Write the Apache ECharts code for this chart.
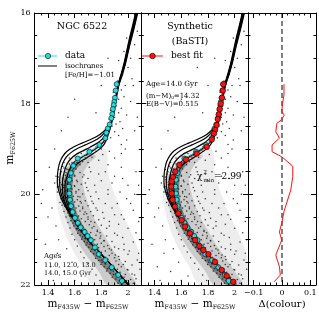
<!DOCTYPE html>
<html><head><meta charset="utf-8">
<script src="https://cdn.jsdelivr.net/npm/echarts@6/dist/echarts.min.js"></script>
<style>html,body{margin:0;padding:0;background:#fff}#c{width:319px;height:319px}</style>
</head><body><div id="c"></div>
<script>
// ---------- tick values ----------
const magMajorTicks = [16, 18, 20, 22];
const colMajorTicks = [1.4, 1.6, 1.8, 2.0];
const colMinorTicks = [1.35,1.4,1.45,1.5,1.55,1.6,1.65,1.7,1.75,1.8,1.85,1.9,1.95,2.0,2.05];
const dMajorTicks = [-0.1, 0, 0.1];
const dMinorTicks = [-0.12,-0.1,-0.08,-0.06,-0.04,-0.02,0,0.02,0.04,0.06,0.08,0.1,0.12];

// ---------- observed fiducial (cyan) ----------
const dataFid = [
[1.915,17.57],[1.908,17.71],[1.902,17.87],[1.897,17.96],[1.893,18.03],[1.887,18.12],[1.882,18.23],[1.875,18.32],
[1.862,18.46],[1.848,18.55],[1.838,18.64],[1.83,18.76],[1.785,18.91],[1.71,19.06],[1.623,19.21],[1.59,19.37],
[1.572,19.53],[1.56,19.68],[1.557,19.83],[1.56,19.98],[1.565,20.12],[1.573,20.26],[1.585,20.39],[1.602,20.52],
[1.624,20.63],[1.645,20.73],[1.675,20.83],[1.697,20.92],[1.722,21.01],[1.752,21.17],[1.78,21.32],[1.83,21.45],
[1.878,21.61],[1.927,21.78],[1.955,21.91]];

// ---------- best fit (red) ----------
const bestFit = [
[1.915,17.57],[1.911,17.71],[1.905,17.87],[1.895,18.0],[1.888,18.12],[1.88,18.24],[1.873,18.34],[1.865,18.47],
[1.853,18.58],[1.845,18.66],[1.828,18.79],[1.791,18.95],[1.715,19.1],[1.635,19.23],[1.585,19.35],[1.555,19.5],
[1.537,19.62],[1.528,19.72],[1.524,19.83],[1.528,19.98],[1.535,20.12],[1.553,20.27],[1.578,20.42],[1.603,20.57],
[1.628,20.71],[1.665,20.86],[1.703,21.01],[1.735,21.14],[1.765,21.23],[1.803,21.32],[1.853,21.49],[1.903,21.67],
[1.941,21.8],[1.99,21.93]];

// ---------- isochrones 11..15 Gyr ----------
const iso11 = [[2.057,16],[2.037,16.25],[2.016,16.5],[1.993,16.8],[1.971,17.1],[1.948,17.35],[1.923,17.6],[1.906,17.85],[1.893,18.1],[1.879,18.3],
[1.86,18.45],[1.84,18.54],[1.815,18.62],[1.775,18.71],[1.72,18.79],[1.655,18.87],[1.595,18.95],[1.547,19.04],[1.513,19.15],[1.49,19.28],
[1.477,19.43],[1.471,19.58],[1.47,19.73],[1.477,19.88],[1.492,20.03],[1.513,20.18],[1.54,20.32],[1.57,20.46],[1.6,20.59],[1.627,20.72],
[1.663,20.86],[1.701,21.01],[1.743,21.15],[1.788,21.3],[1.843,21.47],[1.898,21.65],[1.943,21.8],[1.988,21.95],[2.0,22.0]];
const iso12 = [[2.061,16],[2.041,16.25],[2.02,16.5],[1.997,16.8],[1.974,17.1],[1.951,17.35],[1.925,17.6],[1.908,17.85],[1.895,18.1],[1.881,18.3],
[1.864,18.45],[1.846,18.55],[1.825,18.64],[1.79,18.74],[1.74,18.83],[1.68,18.91],[1.62,18.99],[1.572,19.08],[1.537,19.18],[1.513,19.3],
[1.497,19.45],[1.49,19.6],[1.487,19.75],[1.492,19.9],[1.505,20.05],[1.524,20.19],[1.548,20.33],[1.575,20.46],[1.602,20.59],[1.628,20.72],
[1.664,20.86],[1.702,21.01],[1.744,21.15],[1.789,21.3],[1.844,21.47],[1.899,21.65],[1.944,21.8],[1.989,21.95],[2.0,22.0]];
const iso13 = [[2.065,16],[2.045,16.25],[2.024,16.5],[2.0,16.8],[1.977,17.1],[1.953,17.35],[1.927,17.6],[1.91,17.85],[1.896,18.1],[1.883,18.3],
[1.868,18.45],[1.852,18.56],[1.835,18.66],[1.81,18.77],[1.77,18.87],[1.715,18.96],[1.655,19.05],[1.605,19.13],[1.57,19.22],[1.545,19.32],
[1.527,19.45],[1.515,19.6],[1.508,19.75],[1.508,19.9],[1.515,20.05],[1.53,20.2],[1.552,20.33],[1.578,20.46],[1.603,20.59],[1.628,20.72],
[1.665,20.86],[1.703,21.01],[1.745,21.15],[1.79,21.3],[1.845,21.47],[1.9,21.65],[1.945,21.8],[1.99,21.95],[2.0,22.0]];
const iso14 = [[2.069,16],[2.049,16.25],[2.028,16.5],[2.003,16.8],[1.98,17.1],[1.956,17.35],[1.929,17.6],[1.912,17.85],[1.898,18.1],[1.885,18.3],
[1.872,18.45],[1.858,18.57],[1.845,18.66],[1.828,18.79],[1.8,18.9],[1.76,18.99],[1.71,19.09],[1.66,19.17],[1.625,19.23],[1.597,19.29],
[1.58,19.35],[1.555,19.5],[1.537,19.66],[1.527,19.82],[1.527,19.98],[1.535,20.12],[1.553,20.27],[1.578,20.42],[1.603,20.57],[1.628,20.71],
[1.665,20.86],[1.703,21.01],[1.745,21.15],[1.79,21.3],[1.845,21.47],[1.9,21.65],[1.945,21.8],[1.99,21.95],[2.0,22.0]];
const iso15 = [[2.073,16],[2.053,16.25],[2.032,16.5],[2.006,16.8],[1.983,17.1],[1.959,17.35],[1.931,17.6],[1.914,17.85],[1.9,18.1],[1.887,18.3],
[1.876,18.45],[1.863,18.58],[1.852,18.68],[1.838,18.8],[1.815,18.92],[1.775,19.03],[1.72,19.14],[1.67,19.23],[1.632,19.3],[1.605,19.37],
[1.585,19.45],[1.563,19.6],[1.55,19.75],[1.545,19.9],[1.547,20.05],[1.557,20.2],[1.573,20.33],[1.59,20.47],[1.608,20.6],[1.632,20.73],
[1.667,20.86],[1.705,21.01],[1.747,21.15],[1.792,21.3],[1.847,21.47],[1.902,21.65],[1.947,21.8],[1.992,21.95],[2.002,22.0]];
const isochrones = [iso11, iso12, iso13, iso14, iso15];

// ---------- Delta(colour) ----------
const deltaCol = [
[0.007,17.57],[0.007,17.81],[0.002,17.99],[-0.001,18.18],[0.008,18.25],[-0.002,18.36],[-0.018,18.43],[-0.022,18.62],
[-0.009,18.76],[-0.035,18.91],[-0.035,19.06],[-0.001,19.17],[0.038,19.38],[0.038,19.61],[0.031,19.9],[0.007,20.38],
[-0.001,20.64],[-0.009,20.83],[-0.001,21.01],[-0.022,21.34],[-0.009,21.6],[-0.006,21.78],[-0.028,21.93]];
const zeroLine = [[0,16],[0,22]];

// ---------- density envelopes of the stellar cloud (outline) ----------
const cloudCore = [[1.60,19.3],[1.545,19.5],[1.515,19.75],[1.515,20.0],[1.53,20.25],[1.56,20.5],[1.6,20.75],[1.655,21.0],
[1.715,21.25],[1.785,21.5],[1.86,21.75],[1.94,22.0],[2.0,22.0],[1.93,21.75],[1.855,21.5],[1.79,21.25],[1.73,21.0],
[1.675,20.75],[1.63,20.5],[1.6,20.25],[1.585,20.0],[1.585,19.75],[1.6,19.5],[1.65,19.3]];
const cloudMid = [[1.66,19.15],[1.56,19.35],[1.5,19.6],[1.49,19.9],[1.5,20.2],[1.53,20.5],[1.57,20.8],[1.63,21.1],
[1.7,21.4],[1.78,21.7],[1.85,22.0],[2.06,22.0],[2.0,21.7],[1.93,21.4],[1.86,21.1],[1.8,20.8],[1.74,20.5],[1.7,20.2],
[1.67,19.9],[1.66,19.6],[1.7,19.35],[1.76,19.15]];
const cloudHalo = [[1.7,19.0],[1.55,19.25],[1.47,19.6],[1.46,20.0],[1.48,20.4],[1.52,20.8],[1.58,21.2],[1.66,21.6],
[1.74,22.0],[2.1,22.0],[2.1,21.5],[2.05,21.0],[1.97,20.5],[1.9,20.0],[1.85,19.5],[1.83,19.0]];

// ---------- individual stars ----------
const stars = [
[2.07,16.4],[1.99,16.55],[2.05,16.7],[1.97,16.85],[2.02,17.0],[1.93,17.05],[2.0,17.2],[1.96,17.35],[2.03,17.45],[1.92,17.5],
[1.98,17.6],[1.95,17.7],[1.89,17.75],[1.97,17.85],[1.93,17.9],[2.02,17.95],[1.91,18.05],[1.95,18.1],[1.87,18.15],[1.93,18.2],
[1.99,18.25],[1.9,18.3],[1.86,18.35],[1.94,18.4],[1.91,18.45],[1.88,18.5],[1.96,18.55],[1.84,18.58],[1.9,18.62],[1.93,18.7],
[1.87,18.75],[1.99,18.8],[1.95,18.9],[2.05,18.6],[1.8,17.6],[1.76,18.2],[1.72,17.2],[1.85,17.0],
[1.82,18.85],[1.76,18.95],[1.7,19.05],[1.65,19.1],[1.6,19.15],[1.8,19.0],[1.74,19.1],[1.68,19.2],[1.62,19.25],[1.86,19.05],
[1.9,19.2],[1.58,19.3],[1.56,19.2],[1.52,19.3],[1.64,19.35],[1.7,19.3],[1.78,19.25],[1.85,19.35],[1.95,19.1],
[1.52,19.42],[1.55,19.45],[1.58,19.48],[1.61,19.44],[1.5,19.5],[1.64,19.52],[1.56,19.55],[1.53,19.58],[1.6,19.6],[1.67,19.57],
[1.48,19.62],[1.57,19.63],[1.72,19.5],[1.7,19.65],
[1.51,19.66],[1.54,19.68],[1.58,19.7],[1.62,19.72],[1.49,19.74],[1.56,19.76],[1.65,19.78],[1.52,19.8],[1.6,19.82],[1.47,19.84],
[1.55,19.86],[1.69,19.85],[1.58,19.88],[1.63,19.9],[1.75,19.8],[1.8,19.7],[1.5,19.9],
[1.53,19.93],[1.57,19.95],[1.61,19.97],[1.66,19.99],[1.5,20.0],[1.55,20.02],[1.59,20.04],[1.64,20.06],[1.72,20.05],[1.52,20.08],
[1.57,20.1],[1.62,20.12],[1.68,20.14],[1.78,20.1],[1.55,20.15],[1.6,20.17],[1.85,20.0],[1.49,20.18],[1.65,20.19],
[1.56,20.22],[1.59,20.24],[1.63,20.26],[1.7,20.25],[1.54,20.28],[1.61,20.3],[1.66,20.32],[1.76,20.3],[1.58,20.35],[1.64,20.37],
[1.72,20.38],[1.88,20.3],[1.6,20.42],[1.67,20.44],[1.81,20.4],[1.56,20.46],[1.63,20.48],[1.74,20.47],[1.95,20.45],[2.02,20.2],
[1.6,20.52],[1.65,20.54],[1.7,20.55],[1.78,20.56],[1.62,20.58],[1.68,20.6],[1.75,20.62],[1.86,20.6],[1.64,20.65],[1.71,20.67],
[1.8,20.68],[1.93,20.66],[1.66,20.72],[1.73,20.74],[1.84,20.75],[1.68,20.78],[1.77,20.79],[2.0,20.75],[1.62,20.76],
[1.67,20.82],[1.72,20.84],[1.79,20.85],[1.9,20.86],[1.7,20.88],[1.76,20.9],[1.84,20.92],[1.72,20.95],[1.79,20.97],[1.96,20.95],
[1.68,20.98],[1.75,21.0],[1.82,21.02],[1.88,21.04],[1.73,21.06],[1.8,21.08],[2.04,21.05],[1.77,21.1],
[1.75,21.13],[1.82,21.15],[1.9,21.16],[1.78,21.18],[1.86,21.2],[1.97,21.22],[1.76,21.23],[1.83,21.25],[1.8,21.28],[1.88,21.3],
[2.0,21.32],[1.79,21.33],[1.86,21.35],[1.93,21.37],[1.83,21.39],[1.9,21.4],
[1.85,21.43],[1.8,21.45],[1.91,21.47],[1.98,21.48],[1.86,21.5],[1.83,21.53],[1.93,21.55],[2.03,21.56],[1.88,21.58],[1.95,21.6],
[1.86,21.62],[1.92,21.65],[2.0,21.67],[1.89,21.69],
[1.94,21.72],[1.91,21.75],[1.98,21.77],[2.05,21.78],[1.93,21.8],[1.97,21.83],[1.95,21.86],[2.02,21.88],[1.99,21.9],[1.97,21.94],
[2.04,21.96],[2.01,21.98],
[1.36,19.9],[1.4,20.5],[1.38,21.1],[1.42,21.6],[1.35,20.2],[1.45,19.0],[1.41,19.4],[1.47,21.3],[1.44,21.9],[1.5,18.6],
[1.55,18.3],[1.6,17.9],[1.46,20.7],[1.43,20.3],[1.48,21.0],[1.52,21.7],[1.6,21.9],[1.65,21.8],[1.58,21.5],[1.54,21.2],
[2.06,19.5],[2.0,19.8],[1.95,19.4],[2.08,20.6],[1.92,20.2],[2.05,20.0],[1.9,19.6],[1.85,19.9],[2.08,21.3],[2.07,18.3],
[2.04,17.6],[1.98,19.0],
[1.535,19.52],[1.548,19.61],[1.512,19.64],[1.527,19.71],[1.541,19.77],[1.503,19.79],[1.518,19.85],[1.533,19.91],[1.546,19.95],[1.509,19.97],
[1.524,20.03],[1.538,20.07],[1.553,20.11],[1.517,20.13],[1.531,20.19],[1.546,20.22],[1.562,20.26],[1.528,20.27],[1.541,20.33],[1.557,20.36],
[1.573,20.4],[1.549,20.41],[1.566,20.49],[1.583,20.52],[1.598,20.55],[1.571,20.58],[1.588,20.63],[1.607,20.66],[1.621,20.69],[1.594,20.7],
[1.613,20.76],[1.632,20.8],[1.648,20.83],[1.622,20.86],[1.641,20.9],[1.66,20.94],[1.679,20.97],[1.652,20.99],[1.672,21.04],[1.694,21.07],
[1.713,21.1],[1.686,21.12],[1.707,21.17],[1.729,21.21],[1.75,21.24],[1.72,21.26],[1.742,21.31],[1.768,21.35],[1.79,21.38],[1.757,21.41],
[1.781,21.46],[1.806,21.5],[1.829,21.53],[1.797,21.55],[1.821,21.6],[1.848,21.64],[1.872,21.67],[1.84,21.69],[1.866,21.74],[1.892,21.77],
[1.918,21.81],[1.882,21.83],[1.909,21.87],[1.936,21.9],[1.962,21.94],[1.925,21.96],[1.955,21.99],
[1.492,19.55],[1.485,19.68],[1.478,19.83],[1.488,19.96],[1.497,20.1],[1.505,20.24],[1.52,20.38],[1.535,20.5],[1.55,20.62],[1.565,20.74],
[1.58,20.88],[1.6,21.0],[1.62,21.14],[1.645,21.27],[1.67,21.4],[1.7,21.52],[1.73,21.65],[1.76,21.78],[1.79,21.9],
[1.6,19.58],[1.615,19.69],[1.598,19.81],[1.61,19.94],[1.625,20.05],[1.642,20.16],[1.66,20.28],[1.678,20.39],[1.7,20.5],[1.722,20.6],
[1.745,20.71],[1.77,20.82],[1.795,20.92],[1.82,21.03],[1.848,21.13],[1.875,21.23],[1.905,21.34],[1.935,21.44],[1.965,21.55],[1.995,21.66],
[2.03,21.76],[2.06,21.86],
[1.66,19.62],[1.68,19.75],[1.7,19.92],[1.73,20.15],[1.77,20.35],[1.82,20.53],[1.86,20.7],[1.92,20.9],[1.97,21.1],[2.01,21.25],
[2.07,21.45],[2.09,21.65],
[1.83,19.5],[1.88,19.75],[1.94,19.95],[1.99,20.1],[2.04,20.35],[1.97,20.55],[2.06,20.85],[1.93,21.2],[2.09,21.0],[1.76,19.95],
[1.83,20.2],[1.9,20.45],[1.71,19.4],[1.78,19.55],[1.96,19.65],[2.08,19.8],[1.74,20.2],[1.69,20.43],
[1.62,19.3],[1.57,19.38],[1.54,19.44],[1.66,19.28],[1.73,19.18],[1.81,19.12],[1.76,19.05],[1.69,19.13],[1.56,19.33],[1.51,19.38],
[1.48,19.45],[1.46,19.6],[1.45,19.75],[1.47,19.95]];

// ---------- layout ----------
const SERIF = '"DejaVu Serif","Liberation Serif",serif';
const grids = [
  {left: 34.7, top: 13, width: 106.6, height: 272},
  {left: 141.3, top: 13, width: 106.7, height: 272},
  {left: 248, top: 13, width: 68, height: 272}
];
const CYAN = '#22dede', RED = '#ff1010';

function xAxesFor(g, min, max, major, minor, fmt) {
  const base = {gridIndex: g, type: 'value', min, max, splitLine: {show: false}};
  return [
    Object.assign({}, base, {position: 'bottom',
      axisLine: {show: true, onZero: false, lineStyle: {color: '#000', width: 1}},
      axisTick: {show: true, inside: true, length: 5, customValues: major, lineStyle: {color: '#000'}},
      axisLabel: {show: true, customValues: major, formatter: fmt, color: '#000', fontFamily: SERIF, fontSize: 8, margin: 4}}),
    Object.assign({}, base, {position: 'bottom', axisLine: {show: false},
      axisTick: {show: true, inside: true, length: 2.5, customValues: minor, lineStyle: {color: '#000'}},
      axisLabel: {show: false}}),
    Object.assign({}, base, {position: 'top',
      axisLine: {show: true, onZero: false, lineStyle: {color: '#000', width: 1}},
      axisTick: {show: true, inside: true, length: 5, customValues: major, lineStyle: {color: '#000'}},
      axisLabel: {show: false}}),
    Object.assign({}, base, {position: 'top', axisLine: {show: false},
      axisTick: {show: true, inside: true, length: 2.5, customValues: minor, lineStyle: {color: '#000'}},
      axisLabel: {show: false}})
  ];
}
function yAxesFor(g, showLabel) {
  const base = {gridIndex: g, type: 'value', inverse: true, min: 16, max: 22, interval: 2, splitLine: {show: false},
    axisLine: {show: true, onZero: false, lineStyle: {color: '#000', width: 1}},
    axisTick: {show: true, inside: true, length: 5, lineStyle: {color: '#000'}},
    minorTick: {show: true, splitNumber: 4, length: 2.5, lineStyle: {color: '#000'}}};
  return [
    Object.assign({}, base, {position: 'left',
      axisLabel: {show: showLabel, color: '#000', fontFamily: SERIF, fontSize: 8, margin: 4,
        customValues: magMajorTicks}}),
    Object.assign({}, base, {position: 'right', axisLabel: {show: false}})
  ];
}
const colFmt = v => (Math.abs(v - 2) < 1e-6 ? '2' : v.toFixed(1));
const dFmt = v => (Math.abs(v) < 1e-6 ? '0' : v.toFixed(1).replace('-', '\u2212'));

const xAxis = [].concat(
  xAxesFor(0, 1.3, 2.1, colMajorTicks, colMinorTicks, colFmt),
  xAxesFor(1, 1.3, 2.1, colMajorTicks, colMinorTicks, colFmt),
  xAxesFor(2, -0.12, 0.12, dMajorTicks, dMinorTicks, dFmt)
);
const yAxis = [].concat(yAxesFor(0, true), yAxesFor(1, false), yAxesFor(2, false));

function ax(g) { return {xAxisIndex: 4 * g, yAxisIndex: 2 * g}; }
function envSeries(env, alpha, g) {
  return Object.assign({type: 'custom', coordinateSystem: 'cartesian2d', clip: true, silent: true, z: 1,
    data: [env[0]],
    renderItem: (params, api) => ({type: 'polygon',
      shape: {points: env.map(p => api.coord(p)), smooth: 0.35},
      style: {fill: 'rgba(0,0,0,' + alpha + ')'}})}, ax(g));
}
const series = [];
for (let g = 0; g < 2; g++) {
  series.push(envSeries(cloudHalo, 0.07, g));
  series.push(envSeries(cloudMid, 0.14, g));
  series.push(envSeries(cloudCore, 0.38, g));
  series.push(Object.assign({type: 'scatter', data: stars, symbolSize: 1.5, silent: true, z: 2,
    itemStyle: {color: '#111', opacity: 0.85}}, ax(g)));
  isochrones.forEach(iso => series.push(Object.assign({type: 'line', data: iso, smooth: 0.3, symbol: 'none',
    silent: true, z: 3, lineStyle: {color: '#000', width: 1.2}}, ax(g))));
  series.push(Object.assign({type: 'line', data: dataFid, symbol: 'circle', symbolSize: 5, silent: true, z: 5,
    lineStyle: {color: CYAN, width: 1}, itemStyle: {color: CYAN, borderColor: '#000', borderWidth: 0.6}}, ax(g)));
}
series.push(Object.assign({type: 'line', data: bestFit, symbol: 'circle', symbolSize: 5.5, silent: true, z: 6,
  lineStyle: {color: RED, width: 1}, itemStyle: {color: RED, borderColor: '#000', borderWidth: 0.6}}, ax(1)));
series.push(Object.assign({type: 'line', data: zeroLine, symbol: 'none', silent: true, z: 3,
  lineStyle: {color: '#000', width: 1, type: [5, 3]}}, ax(2)));
series.push(Object.assign({type: 'line', data: deltaCol, symbol: 'none', silent: true, z: 4,
  lineStyle: {color: RED, width: 1}}, ax(2)));

function txt(x, y, text, size, align, extra) {
  return Object.assign({type: 'text', x, y, silent: true, z: 100,
    style: {text, font: size + 'px ' + SERIF, fill: '#000', align: align || 'left', verticalAlign: 'middle'}}, extra || {});
}
const subRich = (s) => ({
  m: {fontSize: s, fontFamily: SERIF, lineHeight: s + 2, verticalAlign: 'bottom'},
  s: {fontSize: s * 0.6, fontFamily: SERIF, lineHeight: 4, verticalAlign: 'bottom'}
});
const graphic = [
  txt(82, 27, 'NGC 6522', 9.5, 'center'),
  {type: 'line', shape: {x1: 38, y1: 56, x2: 57, y2: 56}, style: {stroke: CYAN, lineWidth: 1}, z: 100},
  {type: 'circle', shape: {cx: 48, cy: 56, r: 2.6}, style: {fill: CYAN, stroke: '#000', lineWidth: 0.6}, z: 101},
  txt(65, 55.5, 'data', 9),
  {type: 'line', shape: {x1: 38, y1: 66, x2: 57, y2: 66}, style: {stroke: '#000', lineWidth: 1}, z: 100},
  txt(65, 66, 'isochrones', 7),
  txt(65, 75, '[Fe/H]=\u22121.01', 7),
  txt(44, 256, 'Ages', 7),
  txt(44, 265.5, '11.0, 12.0, 13.0', 6.5),
  txt(44, 273, '14.0, 15.0 Gyr', 6.5),
  txt(190, 27, 'Synthetic', 9.5, 'center'),
  txt(190, 42, '(BaSTI)', 9.5, 'center'),
  {type: 'line', shape: {x1: 142, y1: 56, x2: 163, y2: 56}, style: {stroke: RED, lineWidth: 1}, z: 100},
  {type: 'circle', shape: {cx: 152.5, cy: 56, r: 2.8}, style: {fill: RED, stroke: '#000', lineWidth: 0.6}, z: 101},
  txt(171, 56, 'best fit', 9),
  txt(146, 84.5, 'Age=14.0 Gyr', 7.2),
  {type: 'text', x: 146, y: 95.5, z: 100, silent: true,
    style: {text: '{m|(m\u2212M)}{s|0}{m|=14.32}', fill: '#000', align: 'left', verticalAlign: 'middle', rich: subRich(7)}},
  txt(146, 104, 'E(B\u2212V)=0.515', 7),
  txt(197, 177, '\u03c7', 9),
  txt(203.5, 173, '2', 5.5),
  txt(203.5, 180.5, 'min', 5.5),
  txt(214, 177, '=2.99', 9),
  {type: 'text', x: 88, y: 304, z: 100, silent: true,
    style: {text: '{m|m}{s|F435W}{m| \u2212 m}{s|F625W}', fill: '#000', align: 'center', verticalAlign: 'middle', rich: subRich(10.5)}},
  {type: 'text', x: 195, y: 304, z: 100, silent: true,
    style: {text: '{m|m}{s|F435W}{m| \u2212 m}{s|F625W}', fill: '#000', align: 'center', verticalAlign: 'middle', rich: subRich(10.5)}},
  txt(282, 304, '\u0394(colour)', 10, 'center'),
  {type: 'text', x: 10, y: 148, rotation: Math.PI / 2, z: 100, silent: true,
    style: {text: '{m|m}{s|F625W}', fill: '#000', align: 'center', verticalAlign: 'middle', rich: subRich(10.5)}}
];

const chart = echarts.init(document.getElementById('c'), null, {renderer: 'canvas'});
chart.setOption({
  animation: false,
  backgroundColor: '#fff',
  grid: grids.map(g => Object.assign({containLabel: false, outerBoundsMode: 'none'}, g)),
  xAxis, yAxis, series, graphic
});
</script>
</body></html>
